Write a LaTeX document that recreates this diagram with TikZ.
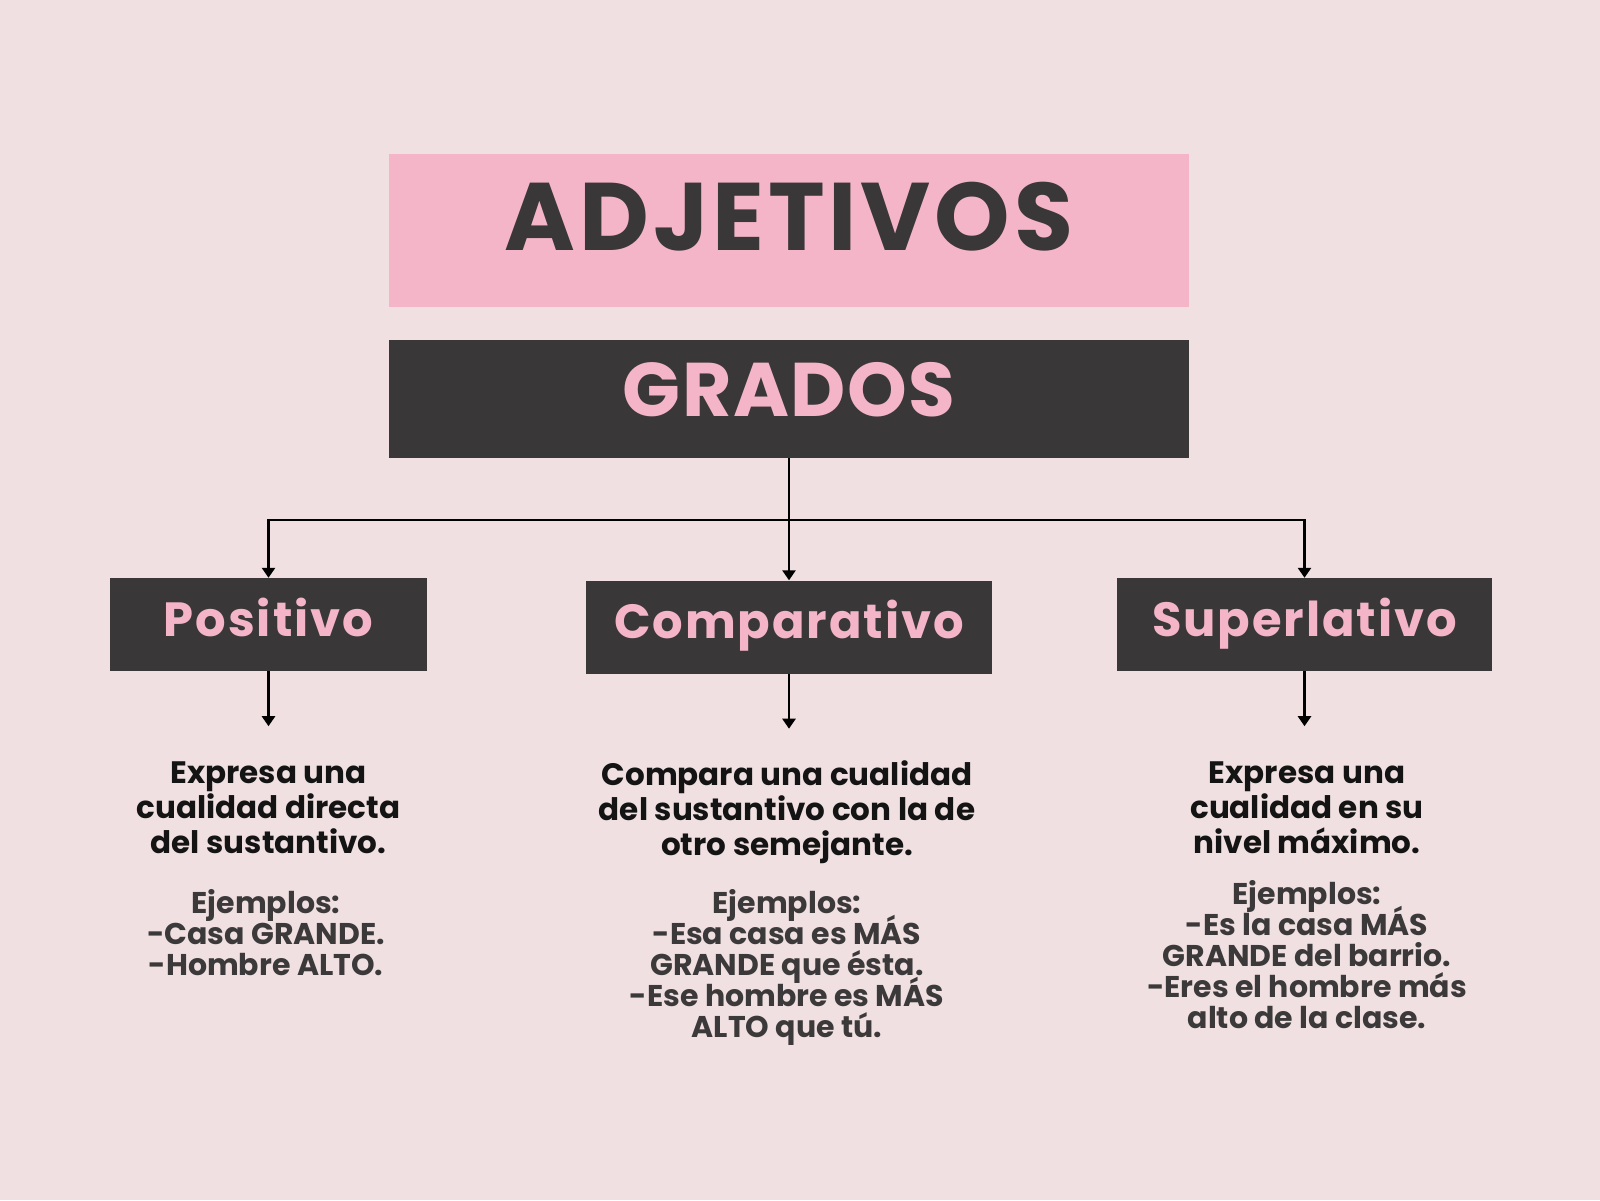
\documentclass[tikz,border=0pt]{standalone}
\usepackage{fontspec}
\setmainfont{Poppins}
\usetikzlibrary{positioning,arrows.meta}
\definecolor{fondo}{HTML}{F0E0E1}
\definecolor{rosa}{HTML}{F4B5C8}
\definecolor{oscuro}{HTML}{3A3738}
\definecolor{gris}{HTML}{3C393A}
\newcommand\apretado{\lineskiplimit-20pt\lineskip0pt\relax}
\begin{document}
\begin{tikzpicture}[x=1pt, y=-1pt,
  caja/.style={inner sep=0pt, minimum width=800pt},
  grado/.style={fill=oscuro, text=rosa, inner sep=0pt, minimum height=93pt,
    text height=35pt, text depth=12pt,
    font=\fontsize{48}{60}\selectfont\bfseries\addfontfeature{LetterSpace=4}},
  texto/.style={align=center, inner sep=0pt, anchor=north, text=black!92,
    font=\fontsize{31}{35}\selectfont\bfseries\apretado},
  ejemplo/.style={texto, text=gris,
    font=\fontsize{30}{31}\selectfont\bfseries\apretado},
  flecha/.style={line width=2.8pt, -{Triangle[width=13pt,length=10pt]}}]
  %----- fondo -----
  \fill[fondo] (0,0) rectangle (1600,1200);

  %----- titulos -----
  \node[caja, fill=rosa, text=oscuro, minimum height=153pt,
    text height=67pt, text depth=27pt,
    font=\fontsize{96}{110}\selectfont\bfseries\addfontfeature{LetterSpace=4}]
    (adj) at (789,230.5) {ADJETIVOS};
  \node[caja, fill=oscuro, text=rosa, minimum height=118pt,
    text height=53pt, text depth=18pt,
    font=\fontsize{76}{90}\selectfont\bfseries\addfontfeature{LetterSpace=2}]
    (grados) at (789,399) {GRADOS};

  %----- grados (cajas) -----
  \node[grado, minimum width=317pt] (pos)  at (268.5,624.5) {Positivo};
  \node[grado, minimum width=406pt] (comp) at (789,627)     {Comparativo};
  \node[grado, minimum width=375pt] (sup)  at (1304.5,624.5) {Superlativo};

  %----- flechas -----
  \coordinate (rama) at (grados.south |- 0,520);
  \draw[flecha] (grados.south) -- (comp.north);
  \draw[flecha] (rama) -| (pos.north);
  \draw[flecha] (rama) -| (sup.north);
  \foreach \g in {pos,comp,sup}{
    \coordinate (\g fin) at ([yshift=-55pt]\g.south);
    \draw[flecha] (\g.south) -- (\g fin);
  }

  %----- textos -----
  \node[texto] (dpos) at (268.5,762) {Expresa una\\cualidad directa\\del sustantivo.};
  \node[ejemplo] (epos) at (266,889) {Ejemplos:\\-Casa GRANDE.\\-Hombre ALTO.};

  \node[texto] (dcomp) at (787,760) {Compara una cualidad\\del sustantivo con la de\\otro semejante.};
  \node[ejemplo] (ecomp) at (787,889) {Ejemplos:\\-Esa casa es MÁS\\GRANDE que ésta.\\-Ese hombre es MÁS\\ALTO que tú.};

  \node[texto] (dsup) at (1307,762) {Expresa una\\cualidad en su\\nivel máximo.};
  \node[ejemplo] (esup) at (1307,880) {Ejemplos:\\-Es la casa MÁS\\GRANDE del barrio.\\-Eres el hombre más\\alto de la clase.};
\end{tikzpicture}
\end{document}
